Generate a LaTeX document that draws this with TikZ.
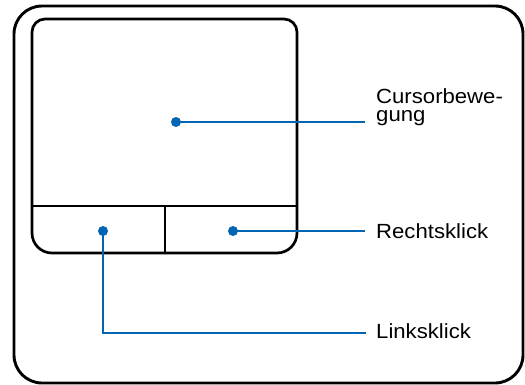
\documentclass[tikz,border=0pt]{standalone}
\usepackage{fontspec}
\setmainfont{Liberation Sans}[FakeStretch=1.08]
\usepackage{xcolor}
\usepackage{tikz}
\usetikzlibrary{positioning, calc}

\definecolor{leadblue}{RGB}{0,102,180}

\begin{document}
\begin{tikzpicture}[
    x=1pt, y=-1pt,
    frame/.style={draw=black, line width=2.9pt},
    pad/.style={draw=black, line width=2.7pt},
    dot/.style={circle, fill=leadblue, inner sep=0pt, minimum size=10pt},
    lead/.style={draw=leadblue, line width=2.3pt},
    lbl/.style={anchor=base west, inner sep=0pt, align=left, font=\fontsize{20.5}{18}\selectfont},
]
    \useasboundingbox (0,0) rectangle (525,384);

    % Casing
    \draw[frame, rounded corners=28pt] (14,6) rectangle (523,383);

    % Touchpad
    \draw[pad] (32,206) -- (32,32) [rounded corners=13pt] -- (32,19) -- (297,19) [rounded corners=0pt] -- (297,206);
    \draw[pad, rounded corners=20pt] (297,206) -- (297,253) -- (32,253) -- (32,206);
    \draw[pad] (32,206) -- (297,206);
    \draw[pad] (165,206) -- (165,253);

    % Dots
    \node[dot] (cursordot) at (176,122) {};
    \node[dot] (rightdot) at (233,231) {};
    \node[dot] (leftdot) at (103,231) {};

    % Labels
    \node[lbl] (cursor) at (376,121) {Cursorbewe-\\gung};
    \node[lbl] (right) at (376,238) {Rechtsklick};
    \node[lbl] (left) at (376,338) {Linksklick};

    \coordinate (cursorend) at (365,122);
    \coordinate (rightend) at (365,231);
    \coordinate (leftend) at (366,333);

    % Leads
    \draw[lead] (cursordot.center) -- (cursorend);
    \draw[lead] (rightdot.center) -- (rightend);
    \draw[lead] (leftdot.center) |- (leftend);
\end{tikzpicture}
\end{document}
